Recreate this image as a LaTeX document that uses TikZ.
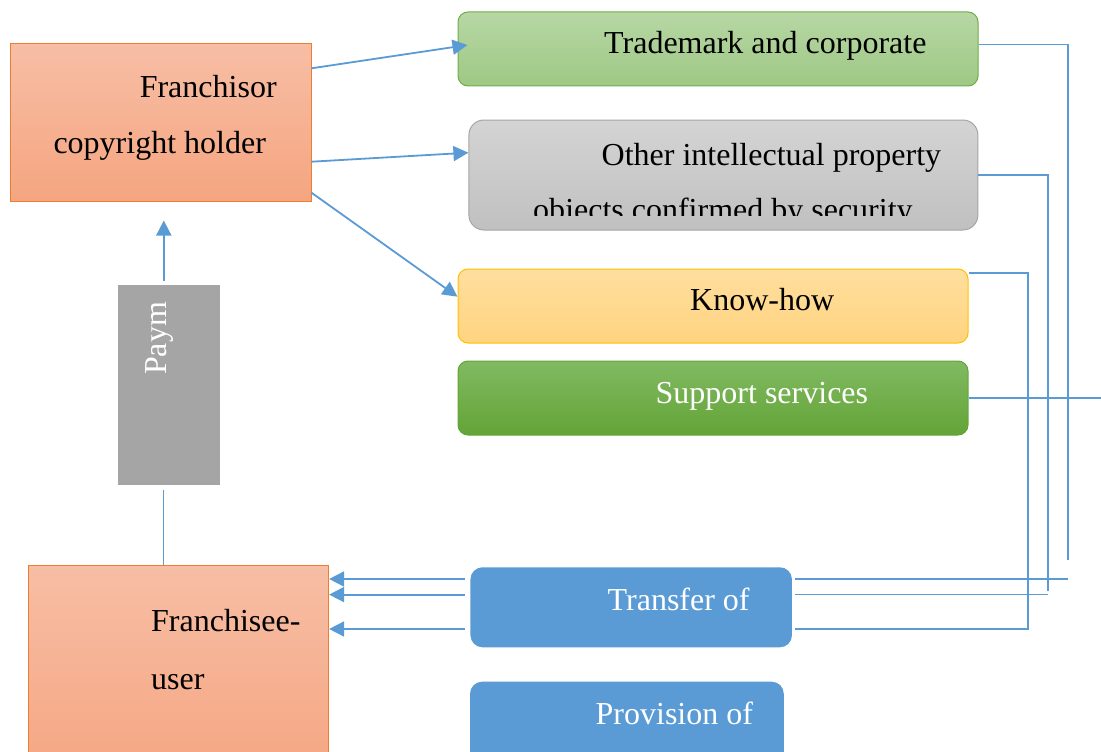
\documentclass[tikz,border=0pt]{standalone}
\usepackage{fontspec}
\setmainfont{Liberation Serif}
\usetikzlibrary{arrows.meta}
\definecolor{franEdge}{RGB}{237,125,49}
\definecolor{franTop}{RGB}{247,190,165}
\definecolor{franBot}{RGB}{245,165,128}
\definecolor{tmTop}{RGB}{183,215,165}
\definecolor{tmBot}{RGB}{158,200,132}
\definecolor{tmEdge}{RGB}{112,173,71}
\definecolor{ipTop}{RGB}{212,212,212}
\definecolor{ipBot}{RGB}{192,192,192}
\definecolor{ipEdge}{RGB}{165,165,165}
\definecolor{khTop}{RGB}{255,222,158}
\definecolor{khBot}{RGB}{255,212,128}
\definecolor{khEdge}{RGB}{255,192,0}
\definecolor{ssTop}{RGB}{129,186,98}
\definecolor{ssBot}{RGB}{99,164,55}
\definecolor{payGray}{RGB}{165,165,165}
\definecolor{linkBlue}{RGB}{91,155,213}
\tikzset{
  plainbox/.style={inner sep=0pt, line width=1pt},
  franbox/.style={plainbox, draw=franEdge, top color=franTop, bottom color=franBot},
  tmbox/.style={plainbox, rounded corners=10pt, draw=tmEdge, top color=tmTop, bottom color=tmBot},
  ipbox/.style={plainbox, rounded corners=15pt, draw=ipEdge, top color=ipTop, bottom color=ipBot},
  khbox/.style={plainbox, rounded corners=10pt, draw=khEdge, top color=khTop, bottom color=khBot},
  ssbox/.style={plainbox, rounded corners=10pt, draw=ssBot, top color=ssTop, bottom color=ssBot},
  paybox/.style={plainbox, fill=payGray},
  bluebox/.style={plainbox, rounded corners=12pt, fill=linkBlue},
  txt/.style={anchor=base west, inner sep=0pt, font=\fontsize{32}{38}\selectfont},
  flow/.style={draw=linkBlue, line width=1.8pt, -{Triangle[length=15pt,width=15pt]}},
  wire/.style={draw=linkBlue, line width=1.3pt},
}
\begin{document}
\begin{tikzpicture}[x=1pt,y=-1pt]
\useasboundingbox (0,0) rectangle (1101,752);
\clip (0,0) rectangle (1101,752);
% boxes
\node[franbox, minimum width=301pt, minimum height=157pt] (franchisor) at (160.5,122.5) {};
\node[tmbox, minimum width=520pt, minimum height=74pt] (trademark) at (718,49) {};
\node[ipbox, minimum width=509pt, minimum height=110pt] (otherip) at (723.4,175) {};
\node[khbox, minimum width=510pt, minimum height=74pt] (knowhow) at (713,306) {};
\node[ssbox, minimum width=510pt, minimum height=74pt] (support) at (713,398) {};
\node[paybox, minimum width=102pt, minimum height=200pt] (payment) at (169,385) {};
\node[franbox, minimum width=300.6pt, minimum height=220pt] (franchisee) at (178.3,675) {};
\node[bluebox, minimum width=321.5pt, minimum height=80pt] (transfer) at (631.2,607.3) {};
\node[bluebox, minimum width=313.7pt, minimum height=100pt] (provision) at (626.9,731.7) {};
% texts
\node[txt] (franchisorA) at (139.6,97) {Franchisor};
\node[txt] (franchisorB) at (53.3,153) {copyright holder};
\node[txt] (trademarkText) at (604,54) {Trademark and corporate};
\node[txt] (otheripA) at (601.5,165) {Other intellectual property};
\begin{scope}
\clip (460,120) rectangle (980,215);
\node[txt] (otheripB) at (533,220.5) {objects confirmed by security};
\end{scope}
\node[txt] (knowhowText) at (690,310.7) {Know-how};
\node[txt, text=white] (supportText) at (655.5,403.5) {Support services};
\node[txt, text=white, rotate=90] (paymentText) at (166.5,375) {Paym};
\node[txt] (franchiseeA) at (151,631.7) {Franchisee-};
\node[txt] (franchiseeB) at (151,689) {user};
\node[txt, text=white] (transferText) at (607.5,610) {Transfer of};
\node[txt, text=white] (provisionText) at (595.5,724) {Provision of};
% connectors
\draw[flow] ([yshift=54.2pt]franchisor.east) -- ([xshift=10pt,yshift=4pt]trademark.west);
\draw[flow] ([yshift=-39.2pt]franchisor.east) -- ([yshift=22.3pt]otherip.west);
\draw[flow] ([yshift=-70.2pt]franchisor.east) -- ([yshift=9.3pt]knowhow.west);
\draw[flow] ([xshift=-5.2pt,yshift=4pt]payment.north) -- ([xshift=3.3pt,yshift=-19pt]franchisor.south);
\draw[wire] ([xshift=-5.2pt,yshift=-4.3pt]payment.south) -- ([xshift=-14.5pt]franchisee.north);
\coordinate (tmDrop) at (1068,560);
\coordinate (ipDrop) at (1048,590.7);
\coordinate (khDrop) at (1028,629);
\coordinate (ssEnd) at (1101,398);
\coordinate (tmBack) at (1068,579);
\coordinate (ipBack) at (1048,594.6);
\draw[wire] ([yshift=4.5pt]trademark.east) -| (tmDrop);
\draw[wire] (otherip.east) -| (ipDrop);
\draw[wire, shorten >=3pt] ([yshift=33pt]knowhow.east) -| (khDrop) -- (transfer.east |- khDrop);
\draw[wire] (support.east) -- (ssEnd);
\draw[wire, shorten >=3pt] (tmBack) -- (transfer.east |- tmBack);
\draw[wire, shorten >=3pt] (ipBack) -- (transfer.east |- ipBack);
\foreach \p in {tmBack,ipBack,khDrop}
  \draw[flow, shorten <=5pt] (transfer.west |- \p) -- (franchisee.east |- \p);
\end{tikzpicture}
\end{document}
